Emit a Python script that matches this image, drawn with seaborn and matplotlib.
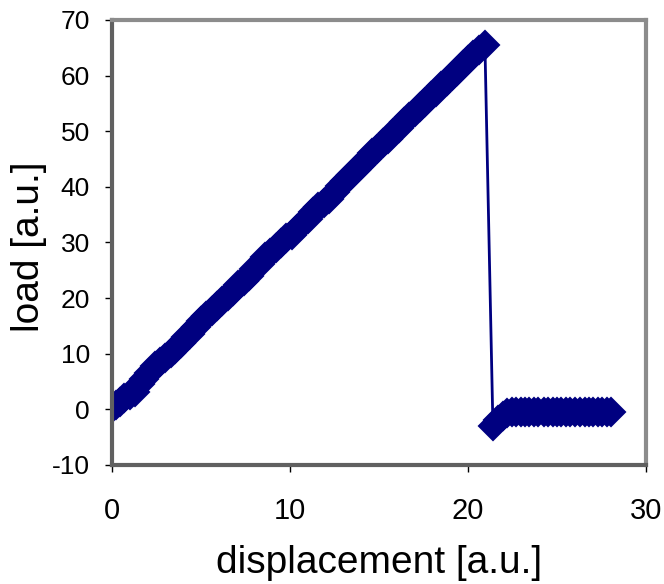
import matplotlib
matplotlib.use("Agg")
import matplotlib.pyplot as plt
import seaborn as sns
import pandas as pd

displacement = [0.0, 0.2, 0.45, 0.7, 1.0, 1.3, 1.55, 1.8, 2.1, 2.4, 2.7, 3.0, 3.3, 3.55,
                3.85, 4.15, 4.4, 4.7, 5.0, 5.3, 5.6, 5.9, 6.2, 6.5, 6.8, 7.1, 7.4, 7.7,
                8.0, 8.3, 8.6, 8.9, 9.2, 9.5, 9.8, 10.1, 10.4, 10.7, 11.0, 11.3, 11.6,
                11.9, 12.2, 12.5, 12.8, 13.1, 13.4, 13.7, 14.0, 14.3, 14.6, 14.9, 15.2,
                15.5, 15.8, 16.1, 16.4, 16.7, 17.0, 17.3, 17.6, 17.9, 18.2, 18.5, 18.8,
                19.1, 19.4, 19.7, 20.0, 20.3, 20.6, 20.95,
                21.4, 21.7, 21.95, 22.2, 22.45, 22.7, 22.95, 23.2, 23.45, 23.7, 23.95,
                24.25, 24.5, 24.75, 25.0, 25.25, 25.5, 25.75, 26.0, 26.3, 26.55, 26.8,
                27.05, 27.3, 27.55, 27.8, 28.05]
load = [0.2, 0.8, 1.3, 2.0, 2.6, 3.2, 4.6, 5.5, 6.6, 7.8, 8.6, 9.2, 10.1, 10.9,
        12.0, 13.0, 13.6, 14.8, 15.8, 16.7, 17.6, 18.5, 19.5, 20.3, 21.3, 22.4, 23.1, 24.0,
        25.2, 26.2, 27.3, 28.1, 29.0, 29.9, 30.8, 31.4, 32.4, 33.3, 34.3, 35.5, 36.3,
        37.1, 37.9, 39.0, 40.2, 41.0, 42.1, 43.0, 44.0, 45.0, 46.0, 46.8, 47.9,
        48.6, 49.6, 50.6, 51.6, 52.5, 53.4, 54.3, 55.3, 56.3, 57.0, 58.1, 59.1,
        59.9, 60.8, 61.9, 62.8, 63.7, 64.6, 65.5,
        -3.0, -2.0, -1.2, -0.7, -0.5, -0.4, -0.5, -0.4, -0.5, -0.5, -0.4,
        -0.5, -0.5, -0.4, -0.5, -0.5, -0.5, -0.4, -0.5, -0.5, -0.4, -0.5,
        -0.5, -0.4, -0.5, -0.5, -0.5]

x_ticks = [0, 10, 20, 30]
y_ticks = [-10, 0, 10, 20, 30, 40, 50, 60, 70]

sns.set_style("ticks")
plt.rcParams['font.family'] = ['Liberation Sans', 'DejaVu Sans']
plt.rcParams['axes.unicode_minus'] = False
plt.rcParams['text.color'] = 'black'
plt.rcParams['axes.labelcolor'] = 'black'
plt.rcParams['xtick.color'] = 'black'
plt.rcParams['ytick.color'] = 'black'

df = pd.DataFrame({"displacement": displacement, "load": load})

fig = plt.figure(figsize=(6.64, 5.84), dpi=100)
ax = fig.add_axes([0.1687, 0.2038, 0.8042, 0.762])

sns.lineplot(data=df, x="displacement", y="load", sort=False, estimator=None,
             color="#000080", linewidth=2, marker="D", markersize=14,
             markeredgecolor="#000080", markeredgewidth=1.5, ax=ax)

ax.set_xlim(0, 30)
ax.set_ylim(-10, 70)
ax.set_xticks(x_ticks)
ax.set_yticks(y_ticks)
ax.tick_params(axis="both", direction="out", length=5, width=1, color="black")
ax.tick_params(axis="x", labelsize=21, pad=18)
ax.tick_params(axis="y", labelsize=19, pad=11)
for s in ax.spines.values():
    s.set_color("#8c8c8c")
    s.set_linewidth(3)
ax.spines["left"].set_color("#606060")
ax.spines["bottom"].set_color("#606060")

ax.set_xlabel("displacement [a.u.]", fontsize=28)
ax.set_ylabel("load [a.u.]", fontsize=28)
ax.xaxis.set_label_coords(0.5, -0.18)
ax.yaxis.set_label_coords(-0.122, 0.49)

fig.savefig("out.png", dpi=100)
